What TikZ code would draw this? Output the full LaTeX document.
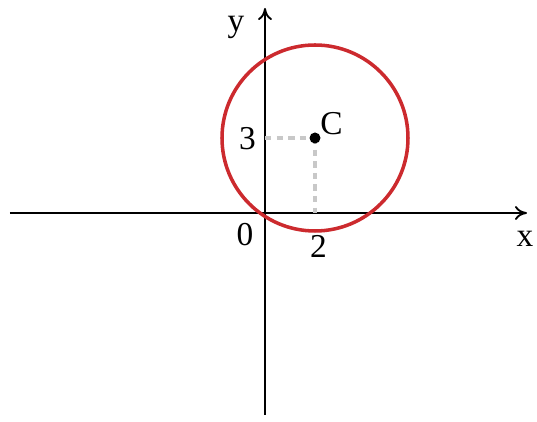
\documentclass[tikz,border=0pt]{standalone}
\usepackage{fontspec}
\setmainfont{Liberation Serif}
\usepackage{xcolor}
\usetikzlibrary{arrows.meta,positioning}
\definecolor{circRed}{HTML}{CC2A2E}
\definecolor{guideGray}{HTML}{C8C8C8}

\begin{document}
\begin{tikzpicture}[x=0.5cm,y=0.5cm,font=\fontsize{19}{22}\selectfont,
  axis/.style={line width=1.05pt, -{To[length=2.4mm,width=2.8mm]}},
  guide/.style={guideGray, line width=1.8pt, dash pattern=on 3.6pt off 3pt},
  ring/.style={circRed, line width=2pt},
  lbl/.style={inner sep=0pt}
]
\useasboundingbox (-10.6,-8.36) rectangle (10.88,8.52);
% axes
\coordinate (xl) at (-10.2,0); \coordinate (xr) at (10.48,0);
\coordinate (yb) at (0,-8.08); \coordinate (yt) at (0,8.2);
\coordinate (O) at (0,0);
\draw[axis] (xl) -- (xr);
\draw[axis] (yb) -- (yt);
% centre and guides
\coordinate (c) at (2,3);
\coordinate (cy) at (0,3); \coordinate (cx) at (2,0);
\draw[guide] (cy) -- (c);
\draw[guide] (c) -- (cx);
\draw[ring] (c) circle (3.72);
\fill (c) circle (0.22);
% labels
\node[lbl] (ylab) at (-1.16,7.44) {y};
\node[lbl] (xlab) at (10.4,-1.04) {x};
\node[lbl] (zero) at (-0.8,-0.88) {0};
\node[lbl] (two) at (2.14,-1.34) {2};
\node[lbl] (three) at (-0.7,2.96) {3};
\node[lbl] (clab) at (2.66,3.58) {C};
\end{tikzpicture}
\end{document}
